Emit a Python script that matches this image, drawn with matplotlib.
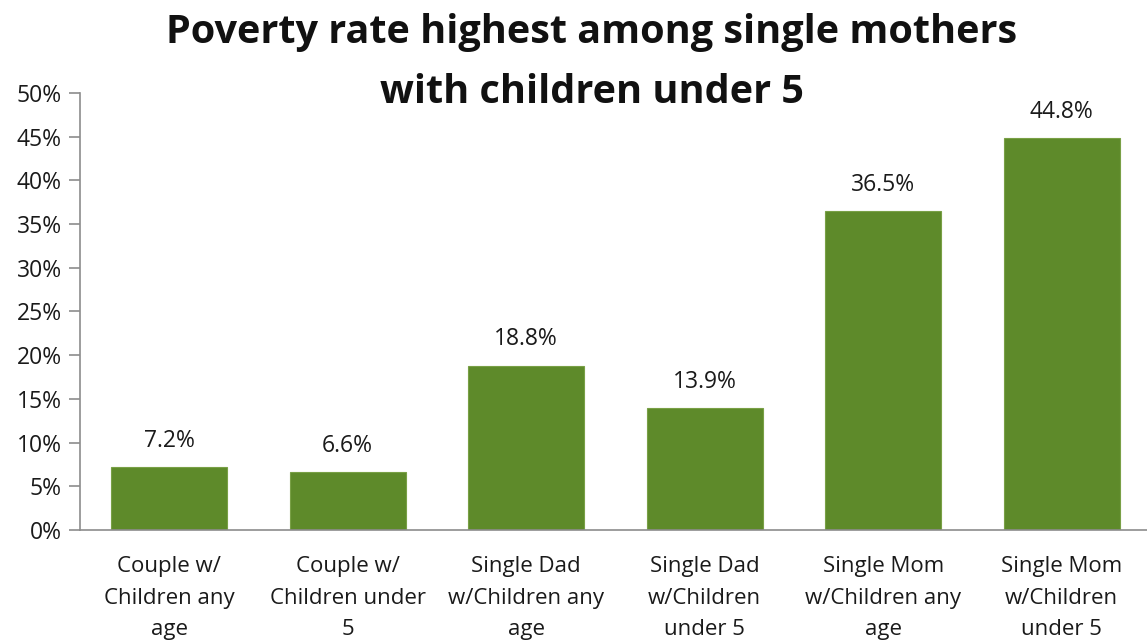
import matplotlib.pyplot as plt
import numpy as np

categories = [
    "Couple w/\nChildren any\nage",
    "Couple w/\nChildren under\n5",
    "Single Dad\nw/Children any\nage",
    "Single Dad\nw/Children\nunder 5",
    "Single Mom\nw/Children any\nage",
    "Single Mom\nw/Children\nunder 5",
]
poverty_rate = [7.2, 6.6, 18.8, 13.9, 36.5, 44.8]
yticks = [0, 5, 10, 15, 20, 25, 30, 35, 40, 45, 50]

plt.rcParams['font.family'] = ['Open Sans', 'DejaVu Sans']

fig = plt.figure(figsize=(11.47, 6.41), dpi=100)
ax = fig.add_axes([0.0697, 0.1732, 0.9338, 0.6818])

x = np.arange(len(categories))
ax.bar(x, poverty_rate, width=0.65, color='#5E8A2A', edgecolor='#79A046', linewidth=0.8)

for xi, v in zip(x, poverty_rate):
    ax.text(xi, v + 3.0, f"{v:.1f}%", ha='center', va='center', fontsize=16.5, color='#1a1a1a')

ax.set_xlim(-0.5, len(categories) - 0.5)
ax.set_ylim(0, 50)
ax.set_yticks(yticks)
ax.set_yticklabels([f"{t}%" for t in yticks], fontsize=16.5, color='#1a1a1a')
ax.set_xticks(x)
ax.set_xticklabels(categories, fontsize=16, color='#1a1a1a', linespacing=1.66)
ax.tick_params(axis='x', length=0, pad=19)
ax.tick_params(axis='y', length=8, width=1.2, color='#8C8C8C', pad=5)

for side in ['top', 'right']:
    ax.spines[side].set_visible(False)
for side in ['left', 'bottom']:
    ax.spines[side].set_color('#8C8C8C')
    ax.spines[side].set_linewidth(1.2)

fig.text(0.516, 0.979, "Poverty rate highest among single mothers\nwith children under 5",
         ha='center', va='top', fontsize=28.5, fontweight='bold', color='#111111', linespacing=1.7)

fig.savefig('out.png', dpi=100)
